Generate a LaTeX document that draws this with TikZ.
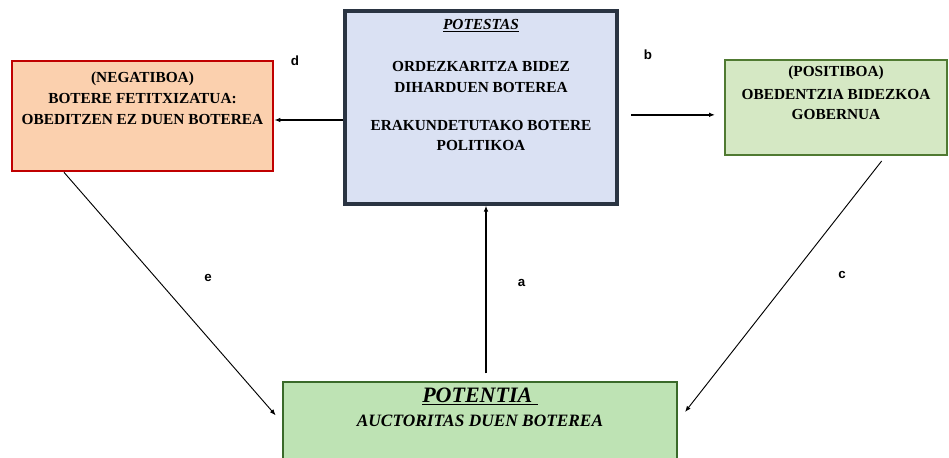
\documentclass[tikz,border=0pt]{standalone}
\usepackage{fontspec}
\setmainfont{Liberation Serif}
\setsansfont{Liberation Sans}
\usetikzlibrary{arrows.meta}

\begin{document}
\begin{tikzpicture}[x=0.75pt,y=0.75pt,yscale=-1,xscale=1,
  box/.style={draw, rectangle, line width=2pt, inner sep=0pt},
  boxtext/.style={anchor=north, align=center, inner sep=0.75pt, font=\fontsize{11.5}{15.5}\selectfont\bfseries},
  arr/.style={-{Latex[length=4.5pt,width=3.5pt]}, line width=1pt},
  thinarr/.style={-{Latex[length=4.5pt,width=3.5pt]}, line width=0.7pt},
  lbl/.style={inner sep=0.75pt, font=\sffamily\bfseries\fontsize{10}{12}\selectfont}]
%set diagram size as the reference
\useasboundingbox (0,0) rectangle (949,457);

%Shape: Rectangle [id:potestas]
\node [box, draw={rgb, 255:red, 42; green, 52; blue, 66 }, fill={rgb, 255:red, 218; green, 225; blue, 243 }, line width=2.4pt, minimum width=204pt, minimum height=144.75pt] (pot) at (481,107.5) {};
%Shape: Rectangle [id:negatiboa]
\node [box, draw={rgb, 255:red, 192; green, 0; blue, 0 }, fill={rgb, 255:red, 251; green, 208; blue, 174 }, minimum width=195.75pt, minimum height=82.5pt] (neg) at (142.5,116) {};
%Shape: Rectangle [id:positiboa]
\node [box, draw={rgb, 255:red, 80; green, 122; blue, 50 }, fill={rgb, 255:red, 213; green, 232; blue, 196 }, minimum width=166.5pt, minimum height=71.25pt] (pos) at (836,107.5) {};
%Shape: Rectangle [id:potentia]
\node [box, draw={rgb, 255:red, 58; green, 106; blue, 42 }, fill={rgb, 255:red, 190; green, 227; blue, 180 }, minimum width=295.5pt, minimum height=75pt] (ptn) at (480,432) {};

% Text Node
\node [boxtext] (pottxt) at ([yshift=6.5pt]pot.north) {\underline{\textit{POTESTAS}}\\[16pt] ORDEZKARITZA BIDEZ\\ DIHARDUEN BOTEREA\\[13pt] ERAKUNDETUTAKO BOTERE\\ POLITIKOA};
% Text Node
\node [boxtext] (negtxt) at ([yshift=8.5pt]neg.north) {(NEGATIBOA)\\ BOTERE FETITXIZATUA:\\ OBEDITZEN EZ DUEN BOTEREA};
% Text Node
\node [boxtext] (postxt) at ([yshift=4.5pt]pos.north) {(POSITIBOA)\\[1.5pt] OBEDENTZIA BIDEZKOA\\[0pt] GOBERNUA};
% Text Node
\node [boxtext, font=\bfseries\itshape] (ptntxt) at ([yshift=4.5pt]ptn.north) {{\fontsize{16.5}{18}\selectfont\underline{POTENTIA\ }}\\[6pt] {\fontsize{13}{15}\selectfont AUCTORITAS DUEN BOTEREA}};

%Straight Lines [id:a]
\draw [arr, shorten <=5.5pt] ([xshift=4.5pt]ptn.north) -- ([xshift=3.75pt]pot.south) ;
%Straight Lines [id:b]
\draw [arr, line width=1.2pt, shorten <=9.5pt, shorten >=6.5pt] ([yshift=5.5pt]pot.east) -- ([yshift=5.5pt]pos.west) ;
%Straight Lines [id:c]
\draw [thinarr] ([xshift=118.5pt,yshift=3.5pt]pos.south west) -- ([xshift=5pt,yshift=23.5pt]ptn.north east) ;
%Straight Lines [id:d]
\draw [arr, line width=1.4pt] ([yshift=9.375pt]pot.west) -- ([yshift=3pt]neg.east) ;
%Straight Lines [id:e]
\draw [thinarr] ([xshift=40pt]neg.south west) -- ([xshift=-4.5pt,yshift=26pt]ptn.north west) ;

% Text Node
\node [lbl] (la) at (521.5,283) {a};
% Text Node
\node [lbl] (lb) at (648,55) {b};
% Text Node
\node [lbl] (lc) at (842,275) {c};
% Text Node
\node [lbl] (ld) at (295,61) {d};
% Text Node
\node [lbl] (le) at (208,278) {e};
\end{tikzpicture}
\end{document}
